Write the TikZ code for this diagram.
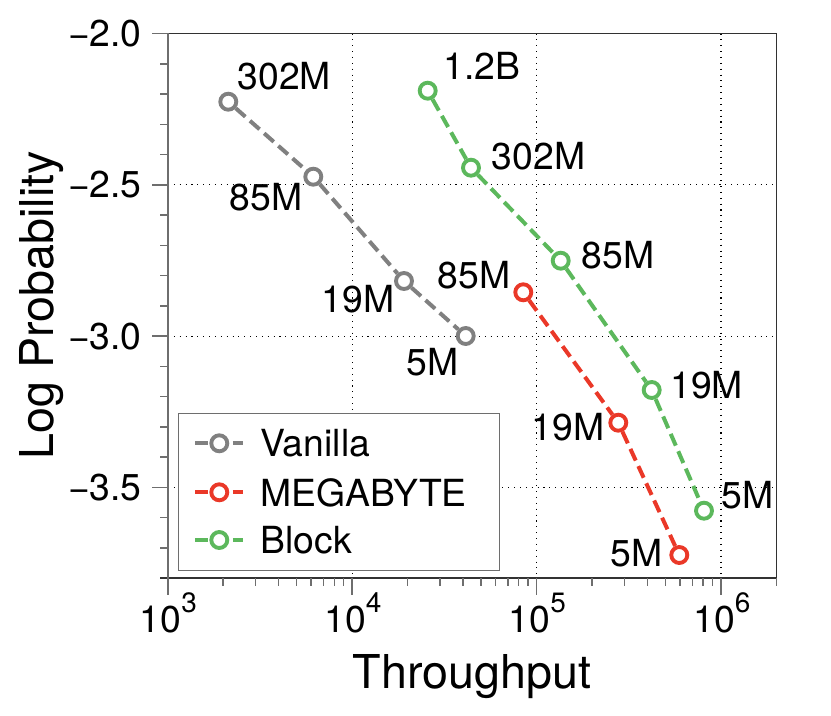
\documentclass[tikz,border=0pt]{standalone}
\usepackage{fontspec}
\setmainfont{TeX Gyre Heros}
\usetikzlibrary{arrows}
\newcommand{\tenpow}[1]{10\raisebox{15pt}{\fontsize{21}{21}\selectfont #1}}

\begin{document}
\begin{tikzpicture}[x=0.75pt,y=0.75pt,yscale=-1,xscale=1,
  lbl/.style={inner sep=0pt,font=\fontsize{28}{34}\selectfont},
  axlbl/.style={inner sep=0pt,font=\fontsize{35}{42}\selectfont},
  serie/.style={line width=3pt,dash pattern=on 9.6pt off 4.6pt},
  mk/.style={circle,line width=2.9pt,fill=white,inner sep=0pt,minimum size=12pt},
  gridln/.style={line width=0.8pt,dash pattern=on 0.8pt off 3.6pt},
  tickc/.style={line width=1.1pt,draw={rgb, 255:red, 110; green, 110; blue, 110}},
  grayc/.style={draw={rgb, 255:red, 128; green, 128; blue, 128}},
  redc/.style={draw={rgb, 255:red, 234; green, 56; blue, 40}},
  greenc/.style={draw={rgb, 255:red, 92; green, 184; blue, 92}}
]
\useasboundingbox (0,0) rectangle (831,716);

%Grid lines
\draw [gridln] (352.1,33.5) -- (352.1,578) (536.6,33.5) -- (536.6,578) (721,33.5) -- (721,578) ;
\draw [gridln] (168,184.8) -- (776.7,184.8) (168,336.1) -- (776.7,336.1) (168,487.4) -- (776.7,487.4) ;

%Frame
\draw [line width=1.1pt,draw={rgb, 255:red, 50; green, 50; blue, 50}] (168,33.5) -- (776.7,33.5) -- (776.7,578) -- (160,578) ;
\draw [tickc,line width=1.6pt] (168,33.5) -- (168,595) ;

%Y ticks
\draw [tickc] (152,33.5) -- (168,33.5) (152,184.8) -- (168,184.8) (152,336.1) -- (168,336.1) (152,487.4) -- (168,487.4) ;
\draw [tickc] (160,63.8) -- ++(8,0) (160,94) -- ++(8,0) (160,124.3) -- ++(8,0) (160,154.5) -- ++(8,0)
  (160,215.1) -- ++(8,0) (160,245.3) -- ++(8,0) (160,275.6) -- ++(8,0) (160,305.8) -- ++(8,0)
  (160,366.4) -- ++(8,0) (160,396.6) -- ++(8,0) (160,426.9) -- ++(8,0) (160,457.1) -- ++(8,0)
  (160,517.7) -- ++(8,0) (160,547.9) -- ++(8,0) ;

%X ticks
\draw [tickc] (352.1,578) -- ++(0,17) (536.6,578) -- ++(0,17) (721,578) -- ++(0,17) ;
\draw [tickc] (223.2,578) -- ++(0,8) (255.7,578) -- ++(0,8) (278.7,578) -- ++(0,8) (296.6,578) -- ++(0,8)
  (311.2,578) -- ++(0,8) (323.6,578) -- ++(0,8) (334.3,578) -- ++(0,8) (343.7,578) -- ++(0,8)
  (407.6,578) -- ++(0,8) (440.1,578) -- ++(0,8) (463.2,578) -- ++(0,8) (481,578) -- ++(0,8)
  (495.6,578) -- ++(0,8) (508,578) -- ++(0,8) (518.7,578) -- ++(0,8) (528.1,578) -- ++(0,8)
  (592.1,578) -- ++(0,8) (624.6,578) -- ++(0,8) (647.6,578) -- ++(0,8) (665.5,578) -- ++(0,8)
  (680.1,578) -- ++(0,8) (692.4,578) -- ++(0,8) (703.1,578) -- ++(0,8) (712.6,578) -- ++(0,8)
  (776.7,578) -- ++(0,8) ;

% Tick labels
\node [lbl,anchor=east] (yt20) at (142,33.5) {−2.0};
\node [lbl,anchor=east] (yt25) at (142,184.8) {−2.5};
\node [lbl,anchor=east] (yt30) at (142,336.1) {−3.0};
\node [lbl,anchor=east] (yt35) at (142,487.4) {−3.5};
\node [lbl,anchor=base] (xt3) at (168.5,632) {\tenpow{3}};
\node [lbl,anchor=base] (xt4) at (353,632) {\tenpow{4}};
\node [lbl,anchor=base] (xt5) at (537.5,632) {\tenpow{5}};
\node [lbl,anchor=base] (xt6) at (722,632) {\tenpow{6}};

% Axis labels
\node [axlbl,anchor=base] (xlab) at (472,688) {Throughput};
\node [axlbl,anchor=base,rotate=90] (ylab) at (53.3,305.5) {Log Probability};

%Vanilla
\node [mk,grayc] (v302) at (228.3,101.7) {};
\node [mk,grayc] (v85) at (313.3,176.7) {};
\node [mk,grayc] (v19) at (404,281) {};
\node [mk,grayc] (v5) at (465.7,336) {};
\draw [serie,grayc] (v302) -- (v85) -- (v19) -- (v5) ;

%MEGABYTE
\node [mk,redc] (m85) at (523.3,292.3) {};
\node [mk,redc] (m19) at (618.3,422.7) {};
\node [mk,redc] (m5) at (679.3,555) {};
\draw [serie,redc] (m85) -- (m19) -- (m5) ;

%Block
\node [mk,greenc] (b1200) at (427.7,90.7) {};
\node [mk,greenc] (b302) at (471,167.7) {};
\node [mk,greenc] (b85) at (560.7,260.7) {};
\node [mk,greenc] (b19) at (651.7,390) {};
\node [mk,greenc] (b5) at (704,510.7) {};
\draw [serie,greenc] (b1200) -- (b302) -- (b85) -- (b19) -- (b5) ;

% Text Node
\node [lbl,anchor=base west] (tv302) at (237.3,89.3) {302M};
\node [lbl,anchor=base west] (tv85) at (229.3,210.7) {85M};
\node [lbl,anchor=base west] (tv19) at (321.7,312.3) {19M};
\node [lbl,anchor=base west] (tv5) at (406,375) {5M};
% Text Node
\node [lbl,anchor=base west] (tm85) at (437.7,288.3) {85M};
\node [lbl,anchor=base west] (tm19) at (531.7,440.7) {19M};
\node [lbl,anchor=base west] (tm5) at (610,566) {5M};
% Text Node
\node [lbl,anchor=base west] (tb1200) at (443.3,79.3) {1.2B};
\node [lbl,anchor=base west] (tb302) at (491.7,170) {302M};
\node [lbl,anchor=base west] (tb85) at (581.7,268.3) {85M};
\node [lbl,anchor=base west] (tb19) at (670,398.3) {19M};
\node [lbl,anchor=base west] (tb5) at (721.7,508.3) {5M};

%Legend
\draw [fill=white,line width=1.1pt,draw={rgb, 255:red, 110; green, 110; blue, 110}] (178.3,413.5) rectangle (499.3,570.5) ;
\coordinate (lgVa) at (195,443.3); \coordinate (lgVb) at (243.3,443.3);
\coordinate (lgMa) at (195,492.3); \coordinate (lgMb) at (243.3,492.3);
\coordinate (lgBa) at (195,540); \coordinate (lgBb) at (243.3,540);
\draw [serie,grayc] (lgVa) -- (lgVb) ;
\draw [serie,redc] (lgMa) -- (lgMb) ;
\draw [serie,greenc] (lgBa) -- (lgBb) ;
\node [mk,grayc] (lgV) at (219.3,443.3) {};
\node [mk,redc] (lgM) at (219.3,492.3) {};
\node [mk,greenc] (lgB) at (219.3,540) {};
\node [lbl,anchor=base west] (lgVt) at (260,456.7) {Vanilla};
\node [lbl,anchor=base west] (lgMt) at (260,506.7) {MEGABYTE};
\node [lbl,anchor=base west] (lgBt) at (260,553.3) {Block};

\end{tikzpicture}
\end{document}
